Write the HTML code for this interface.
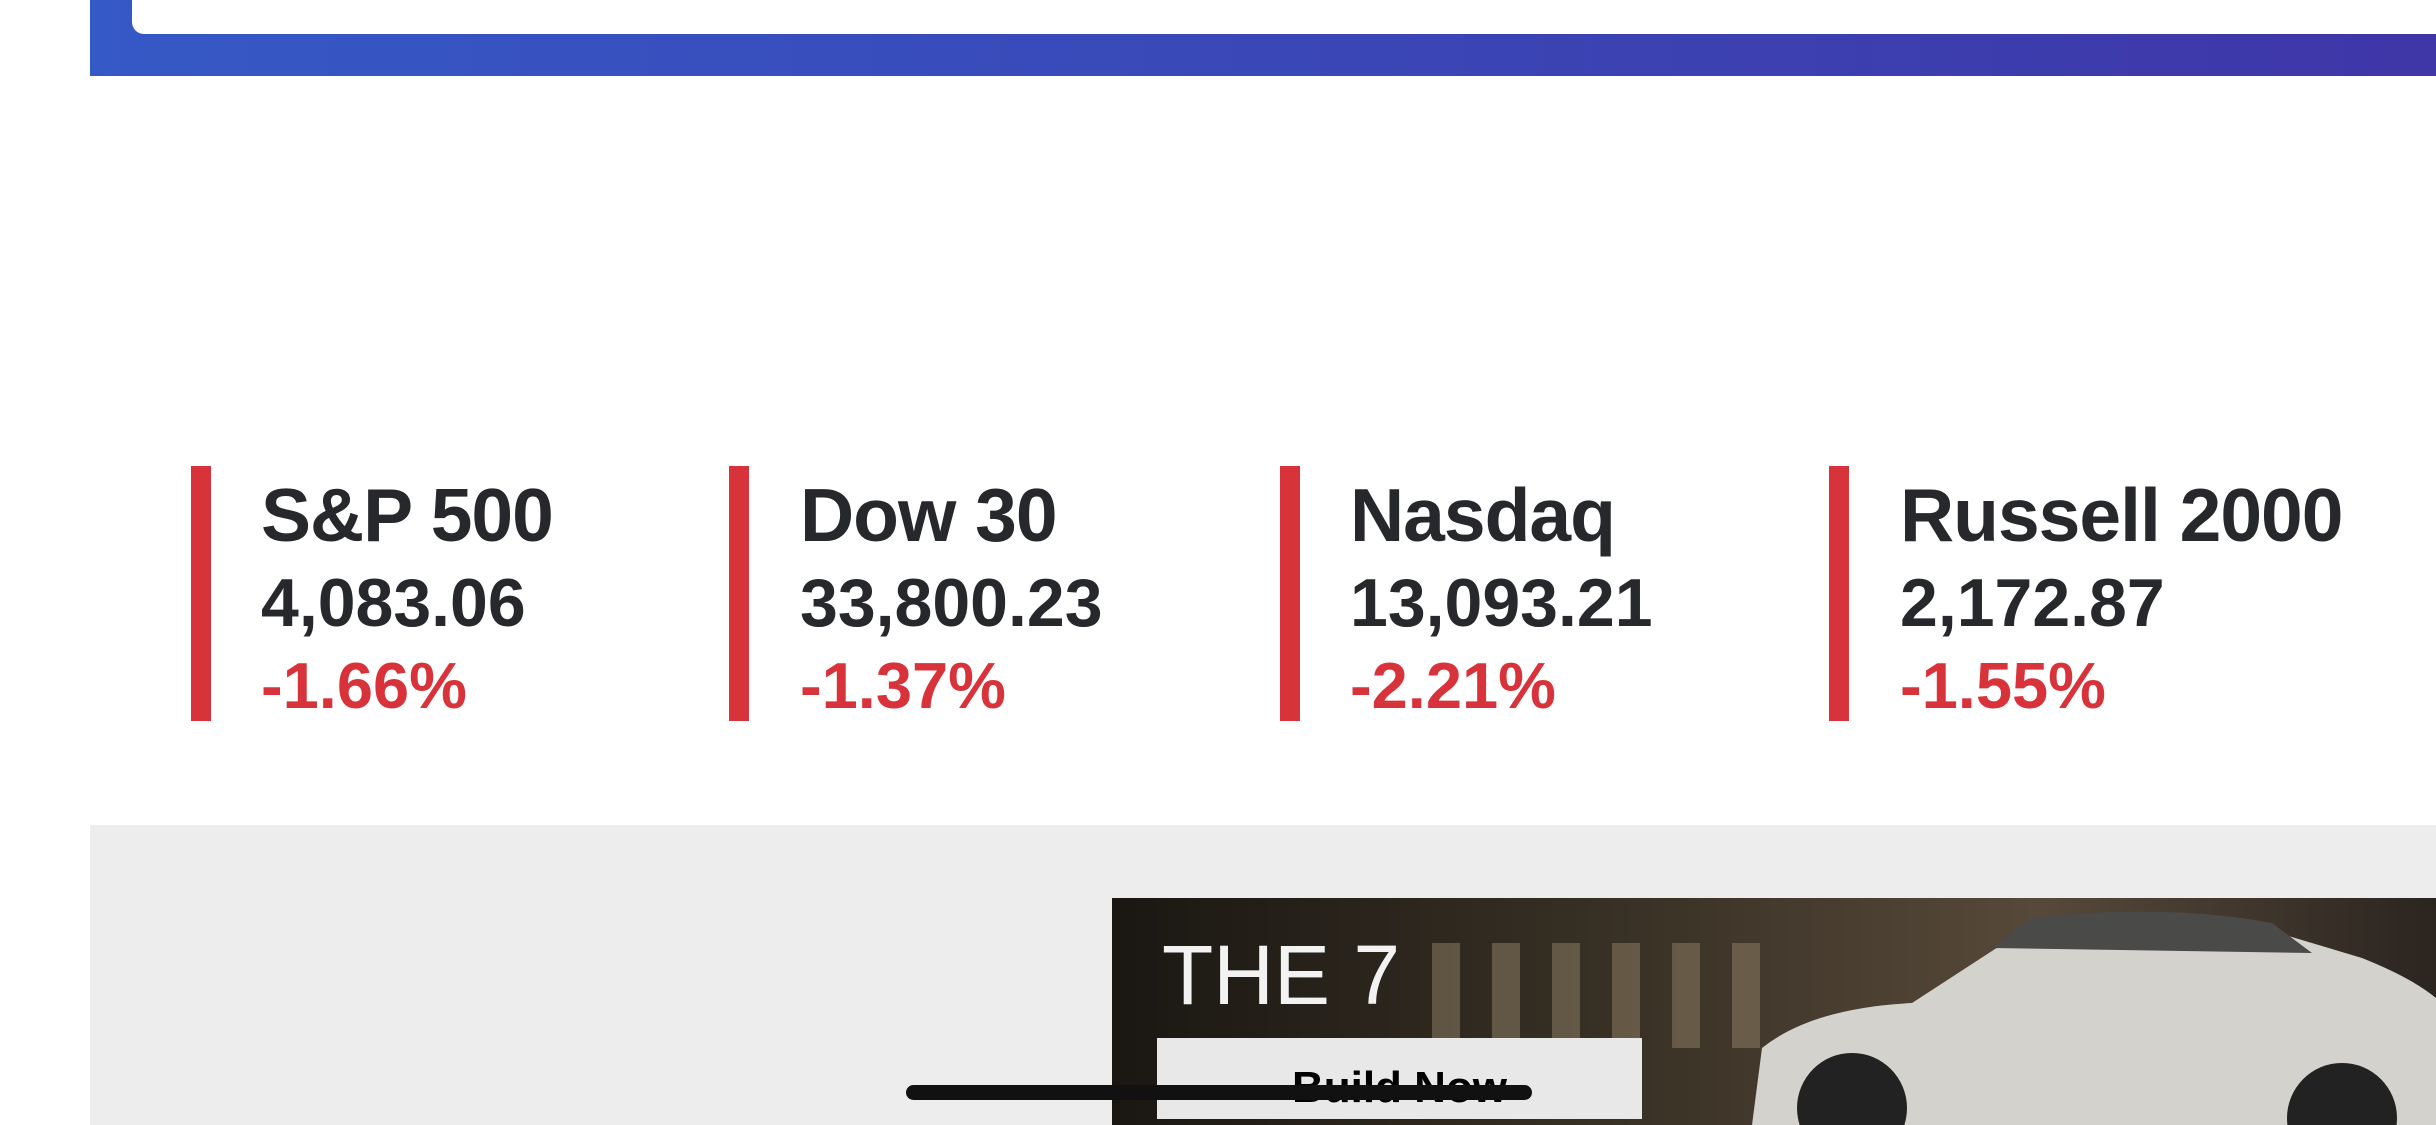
<!DOCTYPE html>
<html><head><meta charset="utf-8"><style>
html,body{margin:0;padding:0;width:2436px;height:1125px;overflow:hidden;background:#fff;font-family:"Liberation Sans",sans-serif;}
.top{position:absolute;left:90px;top:0;width:2346px;height:76px;background:linear-gradient(90deg,#3559c6,#3f36a8);}
.inner{position:absolute;left:132px;top:0;width:2304px;height:34px;background:#fff;border-bottom-left-radius:12px;}
.bar{position:absolute;top:466px;width:20px;height:255px;background:#d8323a;}
.col{position:absolute;top:470px;color:#26282c;}
.t{font-size:75px;font-weight:bold;line-height:90px;letter-spacing:-1px;}
.n{font-size:68px;font-weight:bold;line-height:82px;margin-top:2px;}
.p{font-size:65px;font-weight:bold;line-height:84px;color:#d8323a;}
.grey{position:absolute;left:90px;top:825px;width:2346px;height:300px;background:#ededed;}
.ad{position:absolute;left:1112px;top:898px;width:1324px;height:227px;background:linear-gradient(90deg,#1a1712,#3a3226 40%,#57493a 70%,#2b2520);overflow:hidden;}
.home{position:absolute;left:906px;top:1085px;width:626px;height:15px;border-radius:8px;background:#111;}
</style></head><body>
<div class="top"></div><div class="inner"></div>
<div class="bar" style="left:191px"></div>
<div class="bar" style="left:729px"></div>
<div class="bar" style="left:1280px"></div>
<div class="bar" style="left:1829px"></div>
<div class="col" style="left:261px"><div class="t">S&amp;P 500</div><div class="n">4,083.06</div><div class="p">-1.66%</div></div>
<div class="col" style="left:800px"><div class="t">Dow 30</div><div class="n">33,800.23</div><div class="p">-1.37%</div></div>
<div class="col" style="left:1350px"><div class="t">Nasdaq</div><div class="n">13,093.21</div><div class="p">-2.21%</div></div>
<div class="col" style="left:1900px"><div class="t">Russell 2000</div><div class="n">2,172.87</div><div class="p">-1.55%</div></div>
<div class="grey"></div>
<div class="ad">
<svg width="1324" height="227" style="position:absolute;left:0;top:0">
<g fill="#8a7a62" opacity="0.55">
<rect x="320" y="45" width="28" height="105"/><rect x="380" y="45" width="28" height="105"/><rect x="440" y="45" width="28" height="105"/><rect x="500" y="45" width="28" height="105"/><rect x="560" y="45" width="28" height="105"/><rect x="620" y="45" width="28" height="105"/>
</g>
<path d="M640 227 L650 150 Q700 110 800 105 L900 40 Q1000 20 1150 30 L1250 60 Q1300 80 1324 100 L1324 227 Z" fill="#d4d2cc"/>
<path d="M880 50 L920 20 Q1050 5 1160 25 L1200 55 Z" fill="#4a4a48"/>
<circle cx="740" cy="210" r="55" fill="#222"/><circle cx="1230" cy="220" r="55" fill="#222"/>
</svg>
<div style="position:absolute;left:50px;top:32px;font-size:84px;color:#f2f2f2;letter-spacing:0px;line-height:90px;">THE 7</div>
<div style="position:absolute;left:45px;top:140px;width:485px;height:81px;background:#e8e8e8;text-align:center;font-weight:bold;font-size:44px;line-height:100px;color:#000;">Build Now</div>
</div>
<div class="home"></div>
</body></html>
